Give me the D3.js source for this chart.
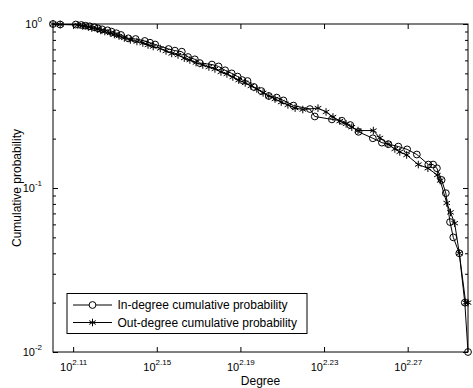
<!DOCTYPE html>
<html>
<head>
<meta charset="utf-8">
<script src="https://cdn.jsdelivr.net/npm/d3@7"></script>
<style>
  body { margin: 0; background: #fff; }
  svg text { font-family: "Liberation Sans", Arial, sans-serif; fill: #000; }
</style>
</head>
<body>
<svg id="chart"></svg>
<script>
// cumulative degree distribution, in vs out
var inDeg = [126.0,127.0,129.2,130.0,130.6,131.2,131.9,132.4,133.0,133.8,134.4,135.1,135.8,136.9,138.0,139.4,140.2,141.0,143.1,144.1,145.2,146.2,147.3,148.1,150.1,151.2,152.3,153.4,154.4,155.2,156.1,157.2,158.5,159.8,161.2,162.4,164.2,167.2,168.1,171.3,173.2,174.8,176.4,179.2,181.0,182.3,184.3,186.1,188.1,190.5,191.5,192.3,193.3,194.2,195.1,195.8,197.1,198.3,199.0];
var inProb = [1.000,0.993,0.993,0.986,0.976,0.968,0.955,0.941,0.928,0.915,0.898,0.878,0.857,0.818,0.810,0.788,0.769,0.750,0.704,0.688,0.678,0.629,0.609,0.578,0.566,0.551,0.522,0.500,0.478,0.455,0.449,0.413,0.390,0.364,0.356,0.342,0.318,0.303,0.273,0.262,0.257,0.242,0.220,0.201,0.189,0.185,0.179,0.172,0.160,0.139,0.139,0.132,0.112,0.093,0.062,0.050,0.040,0.020,0.010];

var outDeg = [126.0,127.0,129.5,130.2,131.0,131.5,132.3,132.8,133.4,134.2,134.8,135.5,136.3,137.2,138.2,139.1,139.9,140.7,141.8,142.7,143.6,144.6,145.6,146.5,147.5,148.6,149.6,150.6,151.6,152.6,153.6,154.6,155.7,156.7,157.7,158.8,159.8,160.9,162.0,163.2,164.5,165.9,168.7,170.2,171.5,172.8,174.0,175.1,176.3,179.3,180.6,182.2,183.6,184.6,186.0,188.4,190.4,192.4,193.0,194.4,195.2,196.1,197.1,198.5,199.0];
var outProb = [1.000,0.993,0.986,0.972,0.959,0.945,0.932,0.913,0.900,0.881,0.863,0.845,0.822,0.799,0.782,0.766,0.745,0.729,0.709,0.685,0.661,0.647,0.620,0.603,0.582,0.562,0.547,0.532,0.510,0.496,0.475,0.455,0.437,0.419,0.402,0.380,0.364,0.349,0.334,0.321,0.307,0.301,0.307,0.291,0.271,0.256,0.246,0.235,0.224,0.224,0.202,0.185,0.173,0.166,0.159,0.139,0.132,0.120,0.111,0.081,0.071,0.061,0.040,0.020,0.020];

var xTickExp = ["2.11","2.15","2.19","2.23","2.27"];
var yTickExp = ["0","-1","-2"];
var legendLabels = ["In-degree cumulative probability", "Out-degree cumulative probability"];

var W = 473, H = 388;
var axL = 53, axR = 468, axT = 24, axB = 352;

var svg = d3.select("svg#chart")
    .attr("width", W)
    .attr("height", H);

var x = d3.scaleLog()
    .domain([126, 199])
    .range([axL, axR]);

var y = d3.scaleLog()
    .domain([0.01, 1])
    .range([axB, axT]);

var xTicks = xTickExp.map(function(e) { return Math.pow(10, +e); });
var yMajor = yTickExp.map(function(e) { return Math.pow(10, +e); });
var yMinor = [];
[0.01, 0.1].forEach(function(b) {
    d3.range(2, 10).forEach(function(k) { yMinor.push(b * k); });
});

function styleAxis(g) {
    g.select(".domain").remove();
    g.selectAll(".tick line").attr("stroke", "#000").attr("stroke-width", 1);
}

// bottom axis with 10^x labels
var gx = svg.append("g")
    .attr("transform", "translate(0," + axB + ")")
    .call(d3.axisBottom(x).tickValues(xTicks).tickSize(-5).tickPadding(9).tickFormat(function() { return ""; }))
    .call(styleAxis);

gx.selectAll(".tick text")
    .attr("font-size", 11)
    .each(function(d, i) {
        var t = d3.select(this).text(null).attr("dy", "0.95em");
        t.append("tspan").text("10");
        t.append("tspan").attr("font-size", 8).attr("dy", -6).text(xTickExp[i]);
    });

svg.append("g")
    .attr("transform", "translate(0," + axT + ")")
    .call(d3.axisTop(x).tickValues(xTicks).tickSize(-5).tickFormat(""))
    .call(styleAxis);

// left axis: major + minor ticks
var gy = svg.append("g")
    .attr("transform", "translate(" + axL + ",0)")
    .call(d3.axisLeft(y).tickValues(yMajor).tickSize(-5).tickPadding(11).tickFormat(function() { return ""; }))
    .call(styleAxis);

gy.selectAll(".tick text")
    .attr("font-size", 11)
    .each(function(d, i) {
        var t = d3.select(this).text(null).attr("dy", "0.35em");
        t.append("tspan").text("10");
        t.append("tspan").attr("font-size", 8).attr("dy", -6).text(yTickExp[i]);
    });

svg.append("g")
    .attr("transform", "translate(" + axL + ",0)")
    .call(d3.axisLeft(y).tickValues(yMinor).tickSize(-3).tickFormat(""))
    .call(styleAxis);

svg.append("g")
    .attr("transform", "translate(" + axR + ",0)")
    .call(d3.axisRight(y).tickValues(yMajor).tickSize(-5).tickFormat(""))
    .call(styleAxis);

svg.append("g")
    .attr("transform", "translate(" + axR + ",0)")
    .call(d3.axisRight(y).tickValues(yMinor).tickSize(-3).tickFormat(""))
    .call(styleAxis);

// frame
svg.append("rect")
    .attr("x", axL).attr("y", axT)
    .attr("width", axR - axL).attr("height", axB - axT)
    .attr("fill", "none").attr("stroke", "#000").attr("stroke-width", 1);

// series
var line = d3.line()
    .x(function(d) { return x(d[0]); })
    .y(function(d) { return y(d[1]); });

var inData = d3.zip(inDeg, inProb);
var outData = d3.zip(outDeg, outProb);

svg.append("path").datum(inData)
    .attr("d", line).attr("fill", "none").attr("stroke", "#000").attr("stroke-width", 1);

svg.selectAll("circle.in")
    .data(inData)
    .enter()
    .append("circle")
    .attr("class", "in")
    .attr("cx", function(d) { return x(d[0]); })
    .attr("cy", function(d) { return y(d[1]); })
    .attr("r", 3.4)
    .attr("fill", "none")
    .attr("stroke", "#000");

svg.append("path").datum(outData)
    .attr("d", line).attr("fill", "none").attr("stroke", "#000").attr("stroke-width", 1);

var star = d3.symbol().type(d3.symbolAsterisk).size(40);

svg.selectAll("path.out")
    .data(outData)
    .enter()
    .append("path")
    .attr("class", "out")
    .attr("d", star)
    .attr("transform", function(d) { return "translate(" + x(d[0]) + "," + y(d[1]) + ")"; })
    .attr("fill", "none")
    .attr("stroke", "#000");

// legend
var lg = svg.append("g");
lg.append("rect")
    .attr("x", 67).attr("y", 293.5)
    .attr("width", 240).attr("height", 40)
    .attr("fill", "#fff").attr("stroke", "#000");

legendLabels.forEach(function(txt, i) {
    var ly = 305 + i * 17.5;
    lg.append("line")
        .attr("x1", 73).attr("x2", 112)
        .attr("y1", ly).attr("y2", ly)
        .attr("stroke", "#000");
    if (i === 0) {
        lg.append("circle").attr("cx", 92.5).attr("cy", ly).attr("r", 3.4)
            .attr("fill", "#fff").attr("stroke", "#000");
    } else {
        lg.append("path").attr("d", star)
            .attr("transform", "translate(92.5," + ly + ")")
            .attr("fill", "none").attr("stroke", "#000");
    }
    lg.append("text")
        .attr("x", 117.5).attr("y", ly + 4.2)
        .attr("font-size", 12)
        .text(txt);
});

// axis titles
svg.append("text")
    .attr("x", (axL + axR) / 2)
    .attr("y", 385)
    .attr("text-anchor", "middle")
    .attr("font-size", 12)
    .text("Degree");

svg.append("text")
    .attr("transform", "translate(21," + ((axT + axB) / 2) + ") rotate(-90)")
    .attr("text-anchor", "middle")
    .attr("font-size", 12)
    .text("Cumulative probability");
</script>
</body>
</html>
